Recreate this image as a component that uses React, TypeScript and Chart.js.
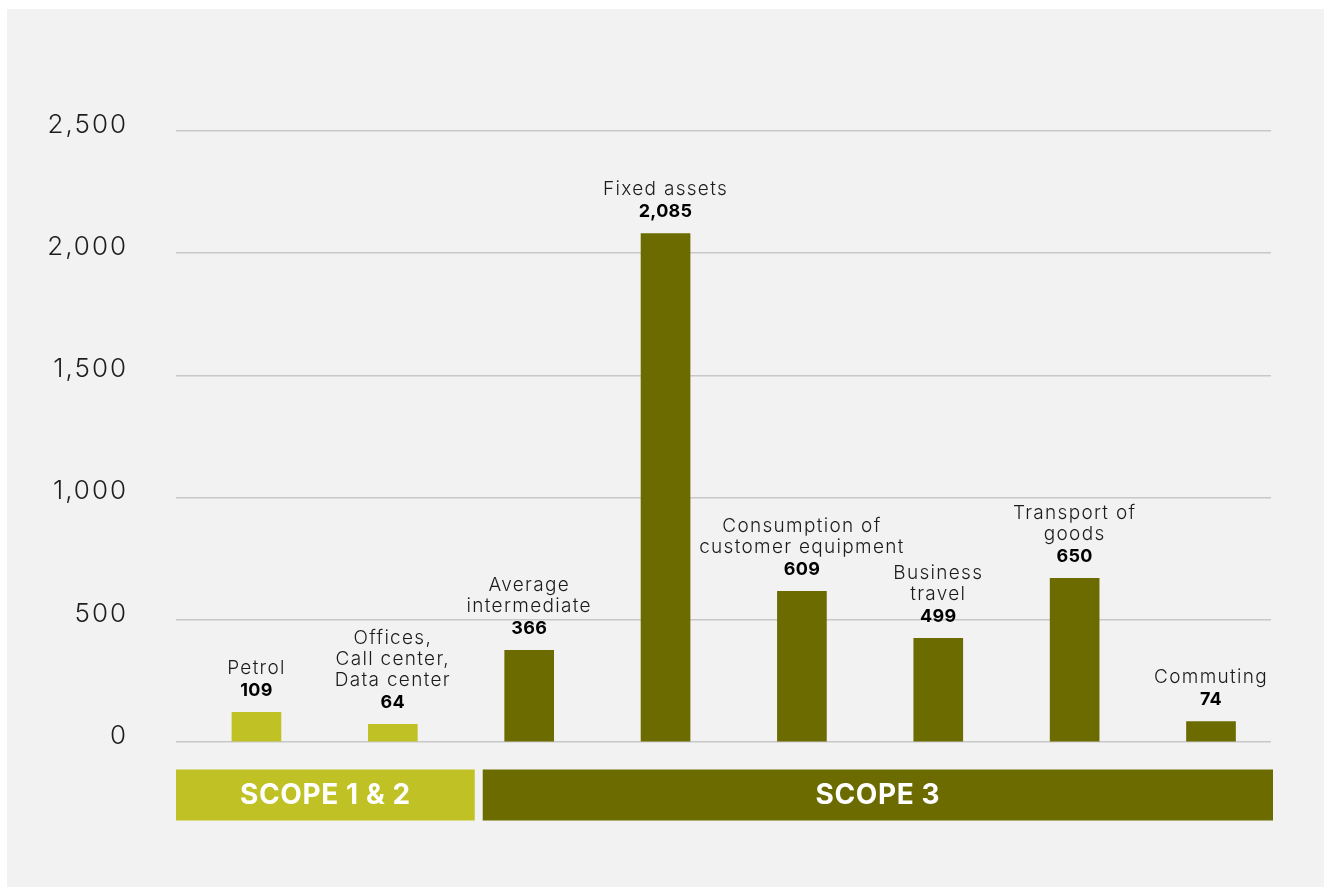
import React, { useEffect, useRef } from "react";
import { Chart, registerables } from "chart.js";

Chart.register(...registerables);

// ---- data ----
const categoryLines: string[][] = [
  ["Petrol"],
  ["Offices,", "Call center,", "Data center"],
  ["Average", "intermediate"],
  ["Fixed assets"],
  ["Consumption of", "customer equipment"],
  ["Business", "travel"],
  ["Transport of", "goods"],
  ["Commuting"],
];
const valueLabels = ["109", "64", "366", "2,085", "609", "499", "650", "74"];
// bar heights as drawn in the picture
const barValues = [121, 72, 375, 2080, 617, 424, 670, 84];
const barScope = [0, 0, 1, 1, 1, 1, 1, 1];
const scopeNames = ["SCOPE 1 & 2", "SCOPE 3"];
const scopeSplit = 1.63; // boundary between the scope groups, in category units
const yMin = 0;
const yMax = 2500;
const yStep = 500;

const LIGHT = "#bfc124";
const DARK = "#6b6b00";
const scopeColors = [LIGHT, DARK];
const FONT = "Inter, 'Open Sans', sans-serif";

const W = 1324;
const H = 887;

const spacingPlugin = {
  id: "spacing",
  beforeDraw(chart: any) {
    (chart.ctx as any).letterSpacing = "2px";
  },
};

const labelPlugin = {
  id: "barLabels",
  afterDatasetsDraw(chart: any) {
    const ctx = chart.ctx;
    const meta = chart.getDatasetMeta(0);
    ctx.save();
    ctx.textAlign = "center";
    ctx.textBaseline = "middle";
    meta.data.forEach((el: any, i: number) => {
      const x = el.x;
      const top = el.y;
      const numY = top - 22;
      ctx.fillStyle = "#000";
      ctx.letterSpacing = "0.3px";
      ctx.font = `700 18px ${FONT}`;
      ctx.fillText(valueLabels[i], x, numY);
      ctx.fillStyle = "#1c1c1c";
      ctx.letterSpacing = "1.3px";
      ctx.font = `300 19px ${FONT}`;
      const lines = categoryLines[i];
      for (let k = 0; k < lines.length; k++) {
        const line = lines[lines.length - 1 - k];
        ctx.fillText(line, x, numY - 22 - 21 * k);
      }
    });
    ctx.restore();
  },
};

const scopePlugin = {
  id: "scopeBoxes",
  afterDraw(chart: any) {
    const ctx = chart.ctx;
    const area = chart.chartArea;
    const xs = chart.scales.x;
    const split = xs.getPixelForValue(scopeSplit);
    const top = area.bottom + 27.5;
    const h = 51;
    const boxes = [
      { l: area.left, r: split - 4 },
      { l: split + 4, r: area.right + 2 },
    ];
    ctx.save();
    boxes.forEach((b, i) => {
      ctx.fillStyle = scopeColors[i];
      ctx.fillRect(b.l, top, b.r - b.l, h);
      ctx.fillStyle = "#ffffff";
      ctx.letterSpacing = "0.6px";
      ctx.font = `700 28px ${FONT}`;
      ctx.textAlign = "center";
      ctx.textBaseline = "middle";
      ctx.fillText(scopeNames[i], (b.l + b.r) / 2, top + h / 2 + 1);
    });
    ctx.restore();
  },
};

export default function App() {
  const ref = useRef<HTMLCanvasElement>(null);

  useEffect(() => {
    document.body.style.margin = "0";
    const canvas = ref.current!;
    const chart = new Chart(canvas, {
      type: "bar",
      data: {
        datasets: [
          {
            data: barValues.map((v, i) => ({ x: i, y: v })),
            backgroundColor: barScope.map((s) => scopeColors[s]),
            barThickness: 49,
            borderWidth: 0,
          },
        ],
      },
      options: {
        animation: false,
        responsive: false,
        layout: { padding: { left: 0, right: 53, top: 131, bottom: 145 } },
        plugins: {
          legend: { display: false },
          tooltip: { enabled: false },
        },
        scales: {
          x: {
            type: "linear",
            min: -0.59,
            max: 7.44,
            offset: false,
            display: false,
          },
          y: {
            min: yMin,
            max: yMax,
            ticks: {
              stepSize: yStep,
              padding: 48,
              labelOffset: -6,
              color: "#1e1e1e",
              font: { family: FONT, size: 26, weight: 300 as any },
            },
            grid: {
              drawTicks: false,
              color: "#c8c8c8",
              lineWidth: 1.5,
            },
            border: { display: false },
            afterFit(scale: any) {
              scale.width = 176;
            },
          },
        },
      },
      plugins: [spacingPlugin, labelPlugin, scopePlugin],
    });
    return () => chart.destroy();
  }, []);

  return (
    <div style={{ position: "absolute", left: 0, top: 0, width: W, height: H, background: "#ffffff", overflow: "hidden" }}>
      <div style={{ position: "absolute", left: 7, top: 9, right: 0, bottom: 0, background: "#f2f2f2" }} />
      <canvas ref={ref} width={W} height={H} style={{ position: "absolute", left: 0, top: 0, width: W, height: H }} />
    </div>
  );
}
